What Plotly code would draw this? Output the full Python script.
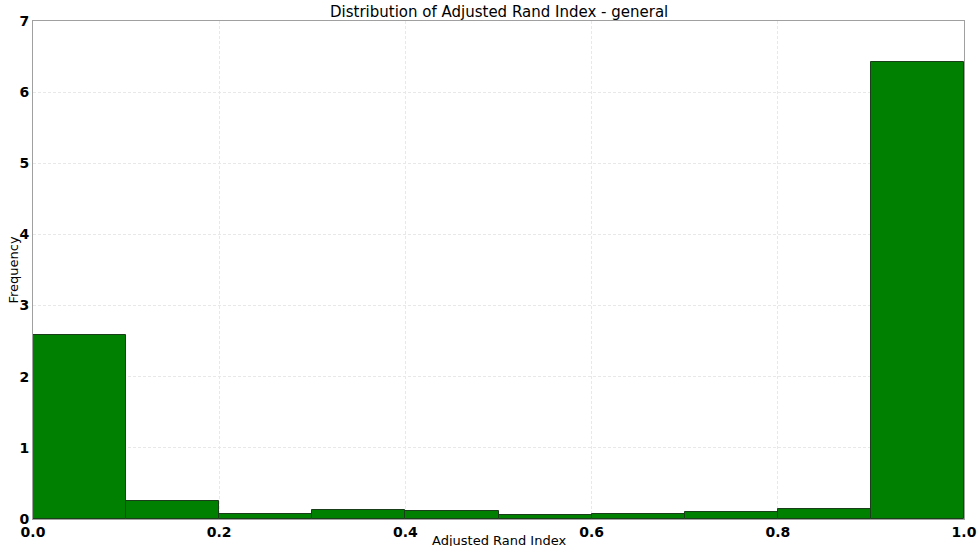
import plotly.graph_objects as go

bin_left = [0.0, 0.1, 0.2, 0.3, 0.4, 0.5, 0.6, 0.7, 0.8, 0.9]
density = [2.58, 0.25, 0.075, 0.12, 0.11, 0.056, 0.07, 0.10, 0.14, 6.42]
bin_width = 0.1
x_ticks = [0.0, 0.2, 0.4, 0.6, 0.8, 1.0]
x_tick_labels = ["0.0", "0.2", "0.4", "0.6", "0.8", "1.0"]
y_ticks = [0, 1, 2, 3, 4, 5, 6, 7]

centers = [b + bin_width / 2 for b in bin_left]

fig = go.Figure(go.Bar(
    x=centers, y=density, width=bin_width,
    marker=dict(color="#008000", line=dict(color="#1a3d1a", width=1)),
))

font = "DejaVu Sans"
fig.update_layout(
    width=977, height=546,
    margin=dict(l=33, r=13, t=21, b=27),
    plot_bgcolor="white", paper_bgcolor="white",
    showlegend=False,
    font=dict(family=font, color="black"),
    bargap=0,
    annotations=[
        dict(text="Distribution of Adjusted Rand Index - general", x=0.5, y=1, xref="paper", yref="paper",
             xanchor="center", yanchor="bottom", yshift=-2, showarrow=False, font=dict(size=15, family=font)),
        dict(text="Adjusted Rand Index", x=0.5, y=0, xref="paper", yref="paper",
             xanchor="center", yanchor="top", yshift=-12, showarrow=False, font=dict(size=13, family=font)),
        dict(text="Frequency", x=0, y=0.5, xref="paper", yref="paper", textangle=-90,
             xanchor="right", yanchor="middle", xshift=-11, showarrow=False, font=dict(size=13, family=font)),
    ],
)
fig.update_xaxes(
    range=[0, 1], tickvals=x_ticks, ticktext=[f"<b>{t}</b>" for t in x_tick_labels],
    tickfont=dict(size=14, family=font), showgrid=True, gridcolor="#e8e8e8", griddash="3px,2px",
    showline=True, linecolor="#a0a0a0", mirror=True, zeroline=False, ticks="", ticklen=0,
    automargin=False,
)
fig.update_yaxes(
    range=[0, 7], tickvals=y_ticks, ticktext=[f"<b>{t}</b>" for t in y_ticks],
    tickfont=dict(size=14, family=font), showgrid=True, gridcolor="#e8e8e8", griddash="3px,2px",
    showline=True, linecolor="#a0a0a0", mirror=True, zeroline=False, ticks="", ticklen=0,
    automargin=False,
)

fig.write_html("out.html", config={"displayModeBar": False},
               post_script="document.body.style.margin='0';document.body.style.overflow='hidden';")
